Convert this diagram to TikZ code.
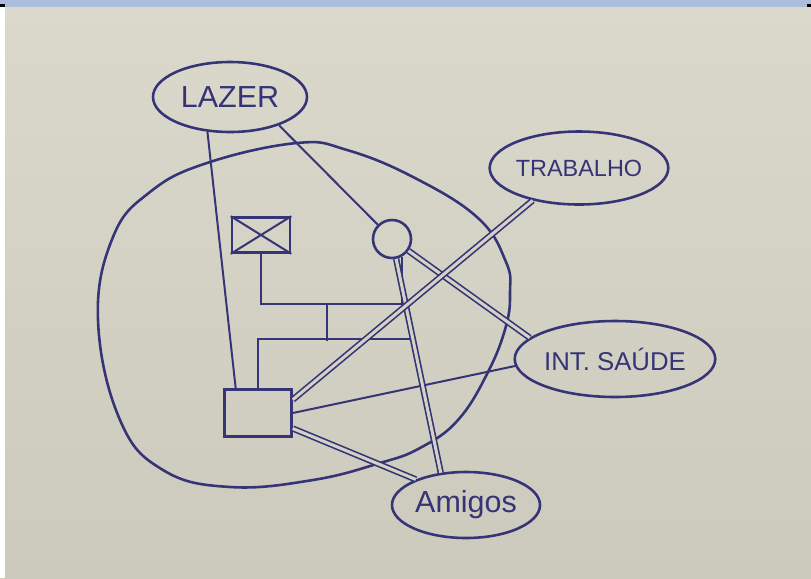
\documentclass[tikz,border=0pt]{standalone}
\usepackage{fontspec}
\setmainfont{Liberation Sans}
\usetikzlibrary{shapes.geometric}

\definecolor{ink}{RGB}{52,52,118}
\definecolor{paperTop}{RGB}{219,217,204}
\definecolor{paperBot}{RGB}{204,202,189}
\definecolor{paper}{RGB}{212,210,197}
\definecolor{band}{RGB}{172,188,220}

\begin{document}
\begin{tikzpicture}[
    x=0.03cm, y=-0.03cm,
    extern/.style={ellipse, draw=ink, line width=2.2pt, inner sep=0pt, text=ink},
    man/.style={rectangle, draw=ink, line width=2.2pt, inner sep=0pt},
    woman/.style={circle, draw=ink, line width=2.2pt, inner sep=0pt, minimum size=1.14cm},
    tie/.style={draw=ink, line width=1.7pt},
    strong/.style={draw=ink, double=paper, double distance=2.6pt, line width=1.4pt}
]

% Photo background
\useasboundingbox (0,0) rectangle (811,578);
\shade[top color=paperTop, bottom color=paperBot] (0,0) rectangle (811,578);
\fill[band] (0,0) rectangle (811,7);
\fill[white] (0,7) rectangle (5,578);
\fill[black] (0,4) rectangle (5,7);
\fill[black] (807,4) rectangle (811,7);

% Household boundary
\draw[ink, line width=2.2pt] plot[smooth cycle, tension=0.7] coordinates {
  (207,163) (297,143) (347,150) (413,177) (478,218) (506,262) (510,292)
  (506,326) (488,372) (458,420) (420,448) (380,463) (313,480) (230,487)
  (163,470) (120,420) (98,320) (113,237) (150,192)};

% Outer systems
\node[extern, minimum width=4.62cm, minimum height=2.1cm] (Lazer) at (230,97)
  {\fontsize{26}{30}\selectfont LAZER};
\node[extern, minimum width=4.44cm, minimum height=2.19cm] (Trab) at (579,168)
  {\fontsize{20}{24}\selectfont TRABALHO};
\node[extern, minimum width=5.88cm, minimum height=2.28cm] (Saude) at (615,359)
  {\fontsize{22}{26}\selectfont INT. SAÚDE};
\node[extern, minimum width=4.44cm, minimum height=1.98cm] (Amigos) at (466,505)
  {\fontsize{26}{30}\selectfont Amigos};

% Family
\node[man, minimum width=1.74cm, minimum height=1.05cm] (Pai) at (261,235) {};
\draw[tie] (Pai.north west) -- (Pai.south east) (Pai.south west) -- (Pai.north east);
\node[woman] (Mae) at (392,239) {};
\node[man, minimum width=2.01cm, minimum height=1.41cm] (Ego) at (258,413) {};

\coordinate (Casal) at (327,304);
\coordinate (Filhos) at (327,341);
\coordinate (FimIrm) at (414,339);

\draw[tie] (Pai) |- (Casal) -| (Mae.300);
\draw[tie] (Casal) -- (Filhos);
\draw[tie] (Ego) |- (FimIrm);

% Connections: thin
\draw[tie] (Lazer.237) -- (Ego.132);
\draw[tie] (Lazer.330) -- (Mae);
\draw[tie] (Ego.east) -- (Saude.184);

% Connections: strong
\draw[strong] (Mae) -- (Amigos.128);
\draw[strong] (Mae) -- (Saude.166);
\draw[strong] (Ego.21) -- (Trab.215);
\draw[strong] (Ego.336) -- (Amigos.153);

\end{tikzpicture}
\end{document}
